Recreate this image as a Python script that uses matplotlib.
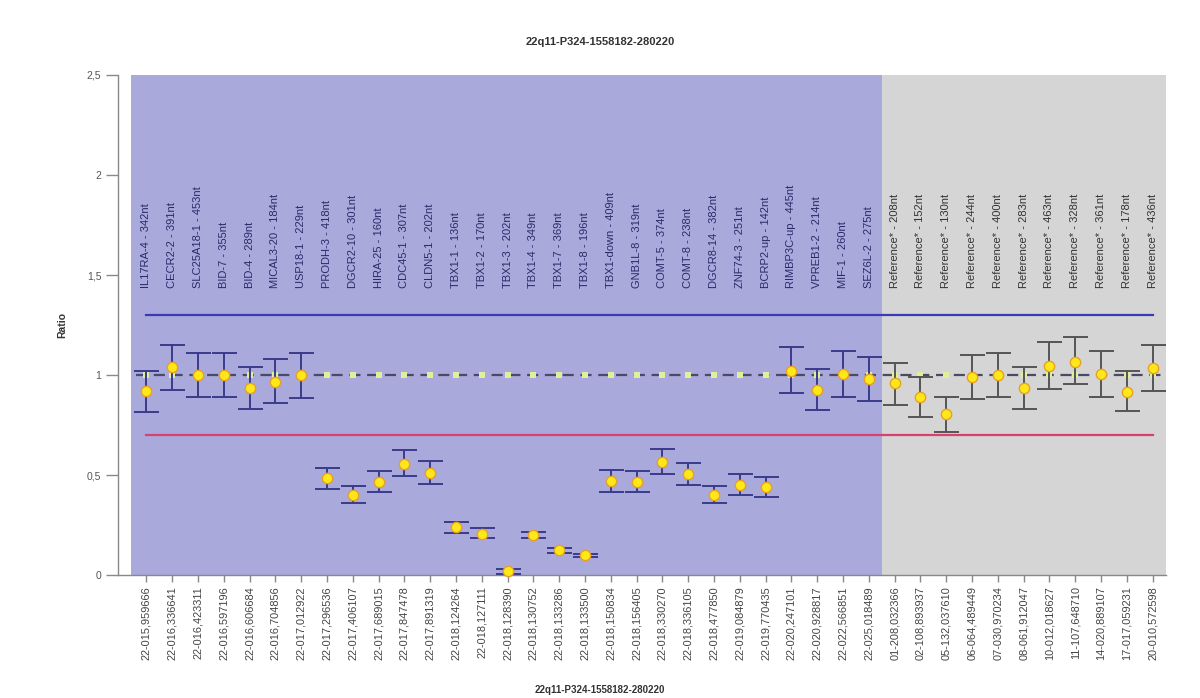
import matplotlib
matplotlib.use("Agg")
import matplotlib.pyplot as plt
import numpy as np

plt.rcParams["font.family"] = ["Liberation Sans", "DejaVu Sans"]

TITLE = "22q11-P324-1558182-280220"

probes = [
    "IL17RA-4 - 342nt", "CECR2-2 - 391nt", "SLC25A18-1 - 453nt", "BID-7 - 355nt",
    "BID-4 - 289nt", "MICAL3-20 - 184nt", "USP18-1 - 229nt", "PRODH-3 - 418nt",
    "DGCR2-10 - 301nt", "HIRA-25 - 160nt", "CDC45-1 - 307nt", "CLDN5-1 - 202nt",
    "TBX1-1 - 136nt", "TBX1-2 - 170nt", "TBX1-3 - 202nt", "TBX1-4 - 349nt",
    "TBX1-7 - 369nt", "TBX1-8 - 196nt", "TBX1-down - 409nt", "GNB1L-8 - 319nt",
    "COMT-5 - 374nt", "COMT-8 - 238nt", "DGCR8-14 - 382nt", "ZNF74-3 - 251nt",
    "BCRP2-up - 142nt", "RIMBP3C-up - 445nt", "VPREB1-2 - 214nt", "MIF-1 - 260nt",
    "SEZ6L-2 - 275nt",
    "Reference* - 208nt", "Reference* - 152nt", "Reference* - 130nt",
    "Reference* - 244nt", "Reference* - 400nt", "Reference* - 283nt",
    "Reference* - 463nt", "Reference* - 328nt", "Reference* - 361nt",
    "Reference* - 178nt", "Reference* - 436nt",
]

positions = [
    "22-015,959666", "22-016,336641", "22-016,423311", "22-016,597196",
    "22-016,606684", "22-016,704856", "22-017,012922", "22-017,296536",
    "22-017,406107", "22-017,689015", "22-017,847478", "22-017,891319",
    "22-018,124264", "22-018,127111", "22-018,128390", "22-018,130752",
    "22-018,133286", "22-018,133500", "22-018,150834", "22-018,156405",
    "22-018,330270", "22-018,336105", "22-018,477850", "22-019,084879",
    "22-019,770435", "22-020,247101", "22-020,928817", "22-022,566851",
    "22-025,018489", "01-208,032366", "02-108,893937", "05-132,037610",
    "06-064,489449", "07-030,970234", "08-061,912047", "10-012,018627",
    "11-107,648710", "14-020,889107", "17-017,059231", "20-010,572598",
]

ratio = [
    0.92, 1.04, 1.00, 1.00, 0.935, 0.967, 1.00, 0.485, 0.40, 0.467,
    0.555, 0.512, 0.242, 0.208, 0.02, 0.20, 0.125, 0.10, 0.472, 0.467,
    0.567, 0.508, 0.40, 0.453, 0.44, 1.02, 0.925, 1.005, 0.98,
    0.958, 0.888, 0.805, 0.99, 1.00, 0.933, 1.045, 1.067, 1.005, 0.917, 1.037,
]
err_low = [
    0.815, 0.925, 0.89, 0.89, 0.83, 0.86, 0.885, 0.43, 0.36, 0.415,
    0.495, 0.455, 0.212, 0.185, 0.005, 0.185, 0.113, 0.092, 0.417, 0.415,
    0.505, 0.45, 0.36, 0.403, 0.39, 0.91, 0.825, 0.89, 0.87,
    0.85, 0.79, 0.717, 0.88, 0.89, 0.83, 0.93, 0.953, 0.89, 0.82, 0.92,
]
err_high = [
    1.02, 1.15, 1.11, 1.11, 1.04, 1.08, 1.108, 0.537, 0.447, 0.52,
    0.625, 0.572, 0.267, 0.235, 0.03, 0.215, 0.137, 0.108, 0.525, 0.52,
    0.633, 0.563, 0.447, 0.508, 0.49, 1.14, 1.03, 1.12, 1.09,
    1.058, 0.99, 0.89, 1.10, 1.11, 1.04, 1.167, 1.19, 1.12, 1.02, 1.15,
]

n_test = 29          # probes in the 22q11 region, the rest are references
upper, lower = 1.3, 0.7

x = np.arange(len(probes))
ratio = np.array(ratio)
yerr = [ratio - np.array(err_low), np.array(err_high) - ratio]

fig = plt.figure(figsize=(12, 6.98), dpi=100)
ax = fig.add_axes([0.0983, 0.176, 0.873, 0.7166])

ax.set_xlim(-1.1, 39.5)
ax.set_ylim(0, 2.5)

# background bands
ax.axvspan(-0.6, n_test - 0.5, color="#a9a9db", lw=0, zorder=0)
ax.axvspan(n_test - 0.5, 39.5, color="#d5d5d5", lw=0, zorder=0)

# threshold lines
ax.plot([x[0], x[-1]], [upper, upper], color="#3a3ab4", lw=1.6, zorder=2)
ax.plot([x[0], x[-1]], [lower, lower], color="#d9406e", lw=1.6, zorder=2)
ax.plot([x[0] - 0.4, x[-1] + 0.4], [1, 1], color="#4a4a66", lw=1.6,
        ls=(0, (5, 3)), zorder=2)
ax.scatter(x, np.ones_like(ratio), marker="s", s=14, color="#dff09a",
           lw=0, zorder=3)

# error bars: blue for test probes, gray for references
for sl, col in [(slice(0, n_test), "#3a3a8c"), (slice(n_test, None), "#555555")]:
    ax.errorbar(x[sl], ratio[sl], yerr=[yerr[0][sl], yerr[1][sl]], fmt="none",
                ecolor=col, elinewidth=1.4, capsize=9, capthick=1.4, zorder=4)
ax.scatter(x, ratio, s=55, color="#ffe81a", edgecolor="#e8a020", lw=1.0,
           zorder=5, clip_on=False)

# probe names above the data
for xi, name in enumerate(probes):
    col = "#2a2a6a" if xi < n_test else "#333333"
    ax.text(xi, 1.435, name, rotation=90, ha="center", va="bottom",
            fontsize=8.0, color=col, zorder=6)

ax.set_xticks(x)
ax.set_xticklabels(positions, rotation=90, fontsize=7.9, color="#444444")
ax.set_yticks([0, 0.5, 1, 1.5, 2, 2.5])
ax.set_yticklabels(["0", "0,5", "1", "1,5", "2", "2,5"], fontsize=7.5,
                   color="#555555")
ax.tick_params(axis="x", length=5, width=1, color="#888888", pad=3)
ax.tick_params(axis="y", length=9, width=1, color="#888888", pad=3)

for side in ["top", "right"]:
    ax.spines[side].set_visible(False)
for side in ["left", "bottom"]:
    ax.spines[side].set_color("#888888")
    ax.spines[side].set_linewidth(1)

ax.set_ylabel("Ratio", fontsize=7.5, fontweight="bold", color="#333333",
              labelpad=14)
fig.text(0.5, 0.94, TITLE, ha="center", va="center", fontsize=8,
         fontweight="bold", color="#333333")
fig.text(0.5, 0.012, TITLE, ha="center", va="center", fontsize=7,
         fontweight="bold", color="#333333")

fig.savefig("out.png", dpi=100)
